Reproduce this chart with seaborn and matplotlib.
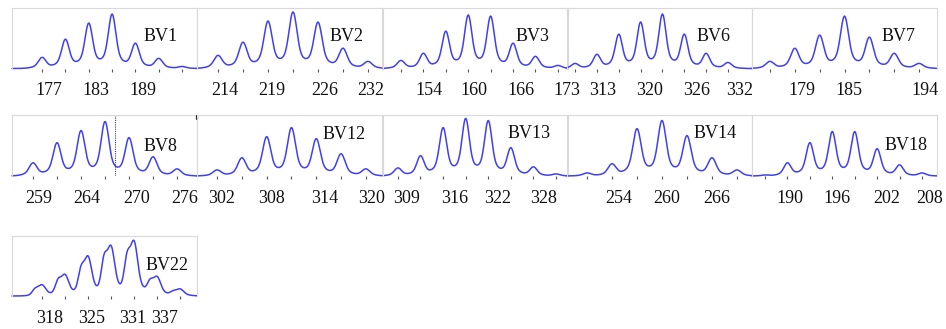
import numpy as np
import matplotlib
matplotlib.use("Agg")
import matplotlib.pyplot as plt
import seaborn as sns

sns.set_theme(style="white")
plt.rcParams['font.family'] = ['Liberation Serif', 'DejaVu Serif']

# ---- data (peak heights, in order of CDR3 length) ----
panel_names = ["BV1", "BV2", "BV3", "BV6", "BV7",
               "BV8", "BV12", "BV13", "BV14", "BV18", "BV22"]

bv1_heights = [11, 29, 45, 54, 25, 10, 2]
bv2_heights = [13, 26, 47, 56, 46, 20, 7]
bv3_heights = [8, 15, 37, 53, 52, 25, 12, 3]
bv6_heights = [5, 14, 34, 46, 54, 34, 15, 6]
bv7_heights = [7, 20, 33, 52, 31, 15, 5]
bv8_heights = [13, 33, 45, 54, 38, 19, 7]
bv12_heights = [6, 18, 39, 48, 37, 22, 7]
bv13_heights = [8, 20, 48, 57, 55, 28, 9, 2]
bv14_heights = [3, 12, 47, 55, 40, 18, 6]
bv18_heights = [1, 13, 33, 44, 44, 27, 11, 3]
bv22_heights = [11, 21, 39, 49, 54, 19, 7]
bv22_shoulders = [7, 16, 27, 38, 39, 14, 4]

bv1_ticks = ["177", "183", "189"]
bv2_ticks = ["214", "219", "226", "232"]
bv3_ticks = ["154", "160", "166", "173"]
bv6_ticks = ["313", "320", "326", "332"]
bv7_ticks = ["179", "185", "194"]
bv8_ticks = ["259", "264", "270", "276"]
bv12_ticks = ["302", "308", "314", "320"]
bv13_ticks = ["309", "316", "322", "328"]
bv14_ticks = ["254", "260", "266"]
bv18_ticks = ["190", "196", "202", "208"]
bv22_ticks = ["318", "325", "331", "337"]

# ---- layout (peak-index units) ----
layout = {
    "BV1":  dict(h=bv1_heights,  t=bv1_ticks,  tp=[0.27, 2.31, 4.34],        xl=(-1.29, 6.64), lab=(0.805, 0.52)),
    "BV2":  dict(h=bv2_heights,  t=bv2_ticks,  tp=[0.28, 2.16, 4.28, 6.12],  xl=(-0.84, 6.56), lab=(0.81, 0.52)),
    "BV3":  dict(h=bv3_heights,  t=bv3_ticks,  tp=[1.25, 3.25, 5.35, 7.40],  xl=(-0.80, 7.45), lab=(0.81, 0.52)),
    "BV6":  dict(h=bv6_heights,  t=bv6_ticks,  tp=[1.28, 3.39, 5.58, 7.55],  xl=(-0.37, 8.10), lab=(0.79, 0.52)),
    "BV7":  dict(h=bv7_heights,  t=bv7_ticks,  tp=[1.29, 3.18, 6.24],        xl=(-0.72, 6.72), lab=(0.79, 0.52)),
    "BV8":  dict(h=bv8_heights,  t=bv8_ticks,  tp=[0.25, 2.25, 4.33, 6.33],  xl=(-0.875, 6.83), lab=(0.805, 0.48)),
    "BV12": dict(h=bv12_heights, t=bv12_ticks, tp=[0.20, 2.21, 4.35, 6.24],  xl=(-0.81, 6.65), lab=(0.795, 0.69)),
    "BV13": dict(h=bv13_heights, t=bv13_ticks, tp=[0.40, 2.53, 4.43, 6.47],  xl=(-0.66, 7.53), lab=(0.79, 0.71)),
    "BV14": dict(h=bv14_heights, t=bv14_ticks, tp=[1.28, 3.20, 5.20],        xl=(-0.80, 6.60), lab=(0.80, 0.71)),
    "BV18": dict(h=bv18_heights, t=bv18_ticks, tp=[1.11, 3.21, 5.44, 7.36],  xl=(-0.58, 7.67), lab=(0.83, 0.50)),
    "BV22": dict(h=bv22_heights, t=bv22_ticks, tp=[0.35, 2.17, 3.96, 5.35],  xl=(-1.30, 6.74), lab=(0.84, 0.50)),
}

W, H = 946, 329
col_left = [12, 197, 383, 567, 752]
panel_w = 185
rows = [(7.5, 68.5), (115.5, 176), (236, 296)]
line_color = "#4040ee"
frame_color = "#d9d9d9"

fig = plt.figure(figsize=(W / 100, H / 100), dpi=100)


def peak_curve(x, heights, shoulders=None):
    y = np.zeros_like(x)
    for i, h in enumerate(heights):
        y += h * (0.75 * np.exp(-0.5 * ((x - i) / 0.15) ** 2)
                  + 0.25 * np.exp(-0.5 * ((x - i) / 0.36) ** 2))
    if shoulders is not None:
        for i, s in enumerate(shoulders):
            y += s * 0.7 * np.exp(-0.5 * ((x - i + 0.3) / 0.12) ** 2)
    return y


for k, name in enumerate(panel_names):
    r, c = divmod(k, 5)
    top, base = rows[r]
    L = col_left[c]
    ax = fig.add_axes([L / W, 1 - base / H, panel_w / W, (base - top) / H])
    d = layout[name]
    x = np.linspace(d["xl"][0], d["xl"][1], 800)
    y = peak_curve(x, d["h"], bv22_shoulders if name == "BV22" else None)
    sns.lineplot(x=x, y=y, ax=ax, color=line_color, lw=1.1,
                 estimator=None, sort=False)
    for ln in ax.lines:
        ln.set_clip_on(False)
    ax.set_xlim(*d["xl"])
    ax.set_ylim(0, base - top)
    ax.set_xlabel("")
    ax.set_ylabel("")
    ax.set_yticks([])
    ax.set_xticks(d["tp"], d["t"])
    ax.set_xticks(range(len(d["h"])), minor=True)
    ax.tick_params(axis="x", which="major", length=0, pad=10, labelsize=13,
                   labelcolor="#111111")
    ax.tick_params(axis="x", which="minor", length=2, width=0.8,
                   color="#555555", direction="out", bottom=True)
    for sp in ["left", "top", "right"]:
        ax.spines[sp].set_color(frame_color)
        ax.spines[sp].set_linewidth(0.8)
    ax.spines["bottom"].set_visible(False)
    ax.patch.set_alpha(0)
    ax.text(d["lab"][0], d["lab"][1], name, transform=ax.transAxes,
            ha="center", va="center", fontsize=13, color="#111111")
    if name == "BV8":
        ax.axvline(3.42, color="#444444", ls=(0, (1, 1)), lw=0.8)
    if name == "BV12":
        ax.plot([d["xl"][0]] * 2, [56.5, 59.5], color="#222222", lw=1.6,
                clip_on=False)

fig.savefig("out.png", dpi=100)
